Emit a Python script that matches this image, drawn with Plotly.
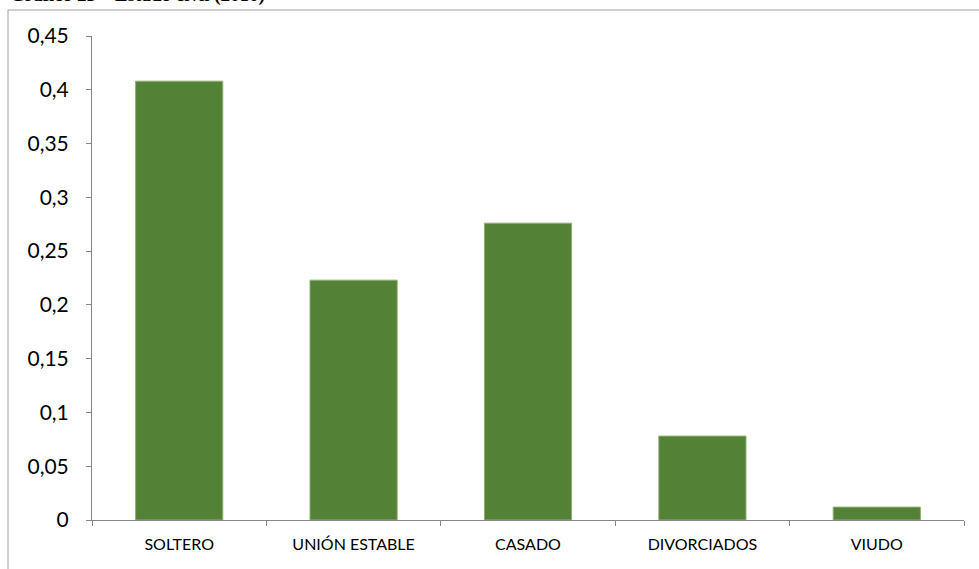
import plotly.graph_objects as go

categories = ["SOLTERO", "UNIÓN ESTABLE", "CASADO", "DIVORCIADOS", "VIUDO"]
values = [0.408, 0.223, 0.276, 0.078, 0.012]
y_ticks = [0, 0.05, 0.1, 0.15, 0.2, 0.25, 0.3, 0.35, 0.4, 0.45]
y_tick_labels = ["0", "0,05", "0,1", "0,15", "0,2", "0,25", "0,3", "0,35", "0,4", "0,45"]
title_text = "Gráfico 25 – Estado civil (2010)"

W, H = 979, 569
L, R, T, B = 92, 15, 36, 49
pw, ph = W - L - R, H - T - B

fig = go.Figure(go.Bar(x=categories, y=values,
                       marker=dict(color="#538135", line=dict(color="#8fb070", width=1)),
                       width=0.5))

def px_to_paper_x(px):
    return (px - L) / pw

def px_to_paper_y(py):
    return (H - B - py) / ph

fig.update_layout(
    width=W, height=H,
    margin=dict(l=L, r=R, t=T, b=B, autoexpand=False),
    paper_bgcolor="white", plot_bgcolor="white",
    showlegend=False,
    font=dict(family="Lato, Open Sans, sans-serif", color="#000000"),
    xaxis=dict(
        automargin=False,
        showline=True, linecolor="#868686", linewidth=1,
        ticks="outside", tickson="boundaries", ticklen=5, tickcolor="#868686",
        tickfont=dict(family="Lato, sans-serif", size=16, color="#000000"), showgrid=False,
        ticklabelstandoff=10,
    ),
    yaxis=dict(
        automargin=False,
        range=[0, 0.45], tickvals=y_ticks, ticktext=y_tick_labels,
        showline=True, linecolor="#868686", linewidth=1,
        ticks="outside", ticklen=5, tickcolor="#868686",
        tickfont=dict(size=21, color="#000000"), showgrid=False, zeroline=False,
        ticklabelstandoff=13,
    ),
    shapes=[
        dict(type="line", xref="paper", yref="paper",
             x0=px_to_paper_x(8), x1=px_to_paper_x(8), y0=px_to_paper_y(10), y1=px_to_paper_y(575),
             line=dict(color="#a0a0a0", width=1)),
        dict(type="line", xref="paper", yref="paper",
             x0=px_to_paper_x(8), x1=px_to_paper_x(985), y0=px_to_paper_y(10), y1=px_to_paper_y(10),
             line=dict(color="#a0a0a0", width=1)),
    ],
    annotations=[
        dict(text="<b>" + title_text + "</b>", xref="paper", yref="paper",
             x=px_to_paper_x(8), y=px_to_paper_y(8), xanchor="left", yanchor="bottom",
             showarrow=False, font=dict(family="Liberation Serif, serif", size=19, color="#000000")),
    ],
)

fig.write_html("out.html", config={"displayModeBar": False},
               post_script="document.body.style.margin='0';document.body.style.overflow='hidden';")
